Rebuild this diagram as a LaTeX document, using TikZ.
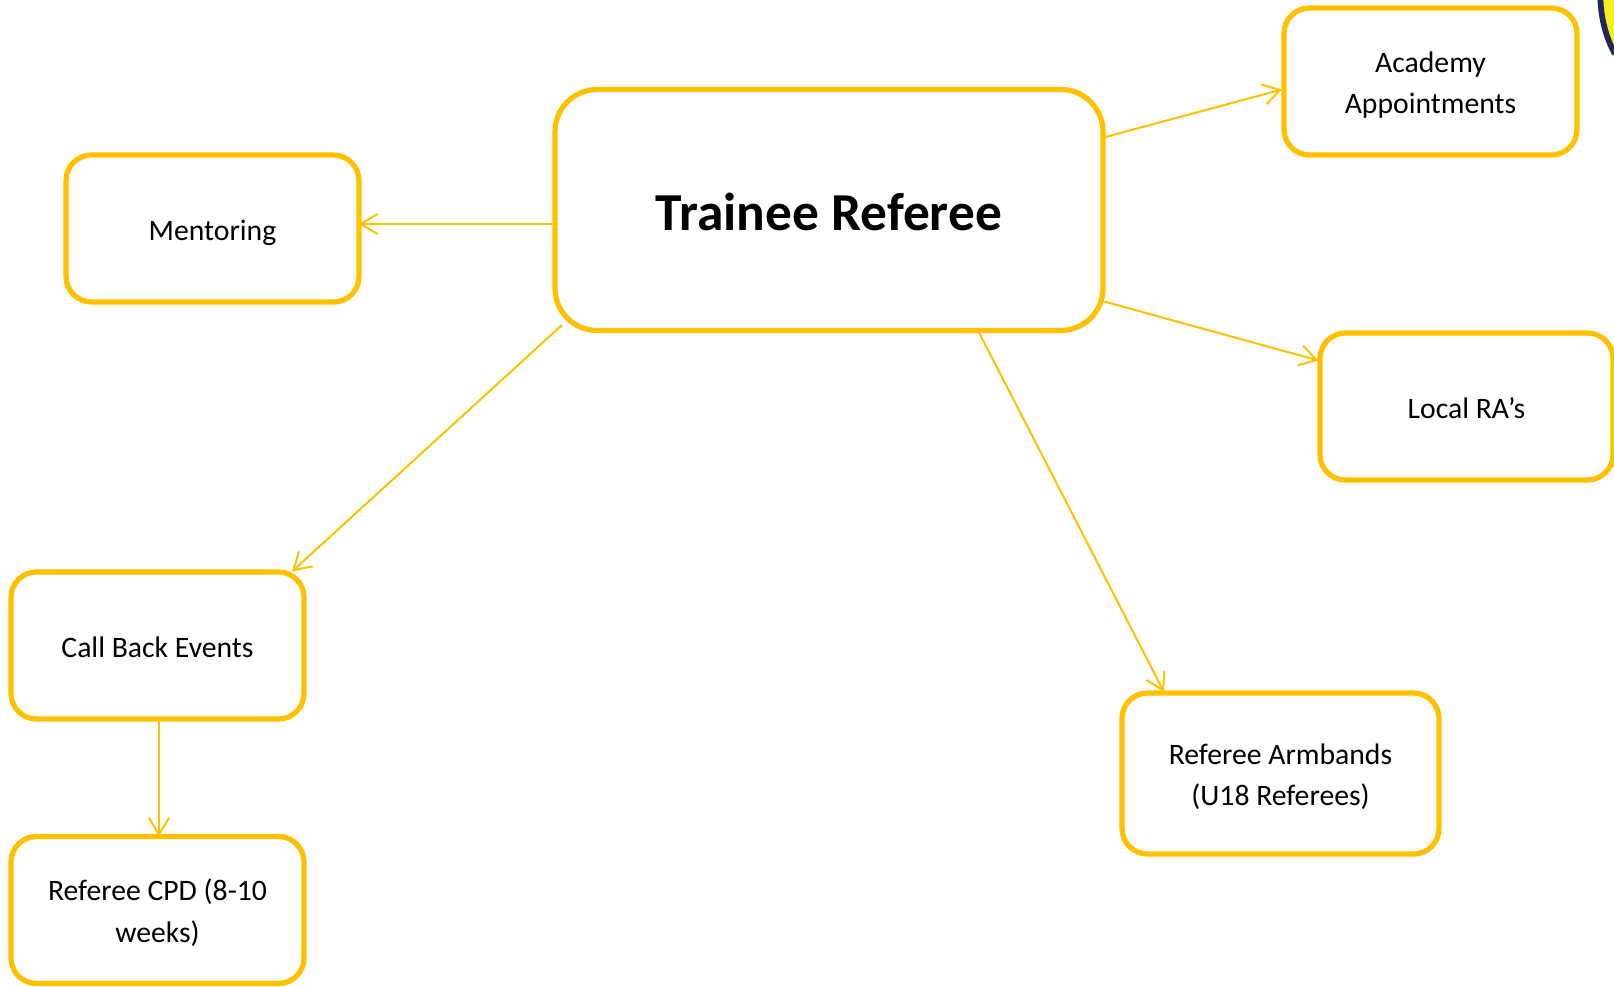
\documentclass[tikz,border=0pt]{standalone}
\usepackage{fontspec}
\setmainfont{Carlito}
\usepackage{tikz}
\usetikzlibrary{arrows.meta}
\definecolor{boxgold}{HTML}{FFC000}
\definecolor{logonavy}{HTML}{1F2A5A}
\definecolor{logoyellow}{HTML}{F5EE20}
\newcommand{\lowline}[1]{\raisebox{-8.7pt}[0pt][0pt]{#1}}

\begin{document}
\begin{tikzpicture}[x=0.02cm,y=-0.02cm]
        % Define styles for the boxes and the arrows
        \tikzset{
            box_small/.style={draw=boxgold, line width=3pt, rounded corners=14.5pt, fill=white, outer sep=0pt, align=center, font=\fontsize{16.9}{23.6}\selectfont, inner sep=0pt, minimum width=293*0.02cm, minimum height=147*0.02cm, execute at begin node={\rule{0pt}{18pt}}, execute at end node={\rule[-4.3pt]{0pt}{4.3pt}}},
            box_main/.style={box_small, rounded corners=24pt, font=\fontsize{30.4}{34}\selectfont\bfseries, execute at begin node={\rule{0pt}{30pt}}, execute at end node={\rule[-6.6pt]{0pt}{6.6pt}}},
            link/.style={draw=boxgold, line width=1.15pt, -{Straight Barb[length=9.5pt, width=11.5pt]}}
        }

        \useasboundingbox (0,0) rectangle (1614,987);

        % Logo cut off in the top right corner
        \fill[logoyellow] (1614,0) -- (1602,0) .. controls (1603,18) and (1608,36) .. (1614,48) -- cycle;
        \draw[logonavy, line width=3.3pt] (1600.5,0) .. controls (1601,18) and (1606,38) .. (1615,54);

        % Boxes
        \node[box_main, minimum width=548*0.02cm, minimum height=241*0.02cm] (trainee) at (829,210) {Trainee Referee};
        \node[box_small] (mentoring) at (212.5,228.5) {Mentoring};
        \node[box_small] (academy) at (1430.5,81.5) {\lowline{Academy}\\\lowline{Appointments}};
        \node[box_small] (local) at (1466.5,406.5) {Local RA’s};
        \node[box_small] (callback) at (157.5,645.5) {Call Back Events};
        \node[box_small] (cpd) at (157.5,910) {\lowline{Referee CPD (8-10}\\\lowline{weeks)}};
        \node[box_small, minimum width=317*0.02cm, minimum height=161*0.02cm] (armbands) at (1280.5,773.5) {\lowline{Referee Armbands}\\\lowline{(U18 Referees)}};

        % Arrows
        \draw[link] ([shift={(0,14)}]trainee.west) -- ([shift={(0,-4.5)}]mentoring.east);
        \draw[link] ([shift={(2.5,-73)}]trainee.east) -- ([shift={(-2,8)}]academy.west);
        \draw[link] ([shift={(1.5,91.6)}]trainee.east) -- ([shift={(-1.5,-46)}]local.west);
        \draw[link] ([shift={(7,-5.5)}]trainee.south west) -- ([shift={(-12,-0.5)}]callback.north east);
        \draw[link] ([shift={(150,2)}]trainee.south) -- ([shift={(-116.5,-1)}]armbands.north);
        \draw[link] ([shift={(1.5,0)}]callback.south) -- ([shift={(1.5,0)}]cpd.north);

    \end{tikzpicture}
\end{document}
